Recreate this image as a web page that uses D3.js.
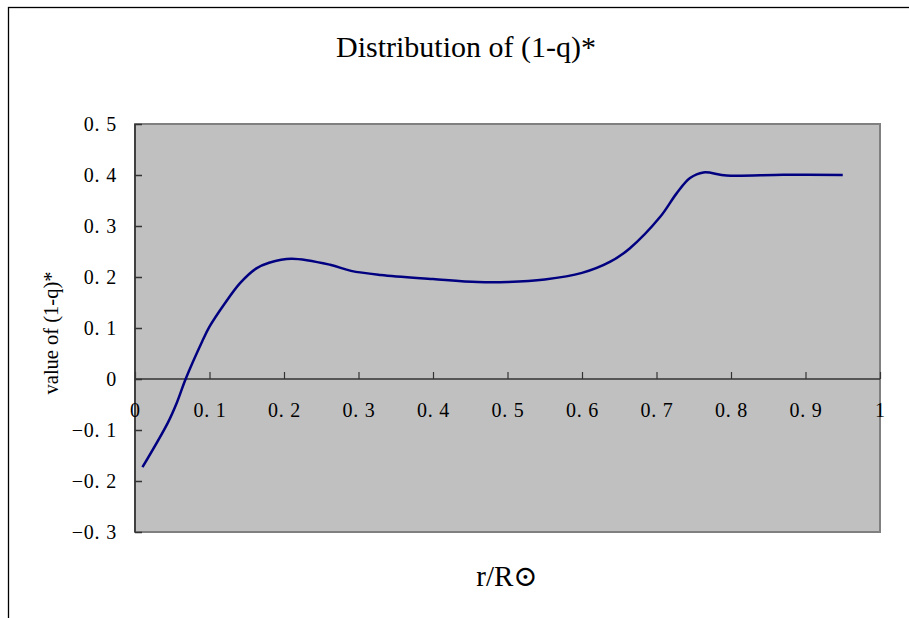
<!DOCTYPE html>
<html>
<head>
<meta charset="utf-8">
<script src="https://cdn.jsdelivr.net/npm/d3@7"></script>
<style>
  html, body { margin: 0; padding: 0; background: #fff; }
  svg { display: block; }
  text { font-family: "Liberation Serif", "DejaVu Serif", serif; fill: #000; }
</style>
</head>
<body>
<svg id="chart" width="909" height="618"></svg>
<script>
// ---- data ----
const rValues = [0.01, 0.044, 0.056, 0.068, 0.09, 0.10, 0.12, 0.141, 0.163, 0.18, 0.21, 0.262, 0.29, 0.33, 0.40, 0.46, 0.50, 0.55, 0.60, 0.638, 0.664, 0.705, 0.727, 0.745, 0.763, 0.794, 0.87, 0.95];
const qValues = [-0.173, -0.086, -0.047, 0.0, 0.073, 0.1025, 0.147, 0.188, 0.217, 0.228, 0.236, 0.224, 0.212, 0.204, 0.196, 0.19, 0.19, 0.195, 0.208, 0.23, 0.256, 0.318, 0.364, 0.394, 0.405, 0.399, 0.4005, 0.4];
const xTickValues = [0, 0.1, 0.2, 0.3, 0.4, 0.5, 0.6, 0.7, 0.8, 0.9, 1];
const xTickLabels = ["0", "0. 1", "0. 2", "0. 3", "0. 4", "0. 5", "0. 6", "0. 7", "0. 8", "0. 9", "1"];
const yTickValues = [0.5, 0.4, 0.3, 0.2, 0.1, 0, -0.1, -0.2, -0.3];
const yTickLabels = ["0. 5", "0. 4", "0. 3", "0. 2", "0. 1", "0", "\u22120. 1", "\u22120. 2", "\u22120. 3"];
const titleText = "Distribution of (1-q)*";
const xLabel = "r/R\u2299";
const yLabel = "value of (1-q)*";

// ---- layout ----
const svg = d3.select("#chart");
const plot = { left: 135, right: 880, top: 124, bottom: 532 };

const x = d3.scaleLinear().domain([0, 1]).range([plot.left, plot.right]);
const y = d3.scaleLinear().domain([-0.3, 0.5]).range([plot.bottom, plot.top]);

// outer chart border (top and left visible)
svg.append("rect")
  .attr("x", 8.5).attr("y", 7.5)
  .attr("width", 1000).attr("height", 1000)
  .attr("fill", "#fff").attr("stroke", "#000").attr("stroke-width", 1.3);

// plot area
svg.append("rect")
  .attr("x", plot.left).attr("y", plot.top)
  .attr("width", plot.right - plot.left).attr("height", plot.bottom - plot.top)
  .attr("fill", "#c0c0c0").attr("stroke", "#808080").attr("stroke-width", 2);

// left axis line (dark)
svg.append("line")
  .attr("x1", plot.left).attr("x2", plot.left)
  .attr("y1", plot.top).attr("y2", plot.bottom)
  .attr("stroke", "#404040").attr("stroke-width", 2);

const tickFont = "'Liberation Serif', serif";

// y axis
const yAxis = d3.axisLeft(y)
  .tickValues(yTickValues)
  .tickFormat((d, i) => yTickLabels[i])
  .tickSizeInner(-7).tickSizeOuter(0).tickPadding(18);
const gy = svg.append("g").attr("transform", `translate(${plot.left},0)`).call(yAxis);
gy.select(".domain").remove();
gy.selectAll(".tick line").attr("stroke", "#333").attr("stroke-width", 1.5);
gy.selectAll(".tick text").style("font-size", "20px")
  .style("letter-spacing", "0.8px")
  .style("font-family", tickFont).attr("fill", "#222");

// x axis along zero line
const xAxis = d3.axisBottom(x)
  .tickValues(xTickValues)
  .tickFormat((d, i) => xTickLabels[i])
  .tickSizeInner(-7).tickSizeOuter(0).tickPadding(24);
const gx = svg.append("g").attr("transform", `translate(0,${y(0)})`).call(xAxis);
gx.select(".domain").remove();
gx.selectAll(".tick line").attr("stroke", "#333").attr("stroke-width", 1.2);
gx.selectAll(".tick text").style("font-size", "20px")
  .style("letter-spacing", "0.8px")
  .style("font-family", tickFont).attr("fill", "#222");

svg.append("line")
  .attr("x1", plot.left).attr("x2", plot.right)
  .attr("y1", y(0)).attr("y2", y(0))
  .attr("stroke", "#333").attr("stroke-width", 1.3);

// data line
const data = rValues.map((r, i) => ({ r, q: qValues[i] }));
const line = d3.line().x(d => x(d.r)).y(d => y(d.q)).curve(d3.curveCatmullRom.alpha(0.5));
svg.append("path").datum(data)
  .attr("d", line)
  .attr("fill", "none").attr("stroke", "#000080").attr("stroke-width", 2.5);

// title & labels
svg.append("text")
  .attr("x", 466).attr("y", 57)
  .attr("text-anchor", "middle")
  .style("font-size", "30px")
  .text(titleText);

svg.append("text")
  .attr("x", 507).attr("y", 586)
  .attr("text-anchor", "middle")
  .style("font-size", "29px")
  .text(xLabel);

svg.append("text")
  .attr("transform", "translate(58,333) rotate(-90)")
  .attr("text-anchor", "middle")
  .style("font-size", "20.5px")
  .text(yLabel);
</script>
</body>
</html>
